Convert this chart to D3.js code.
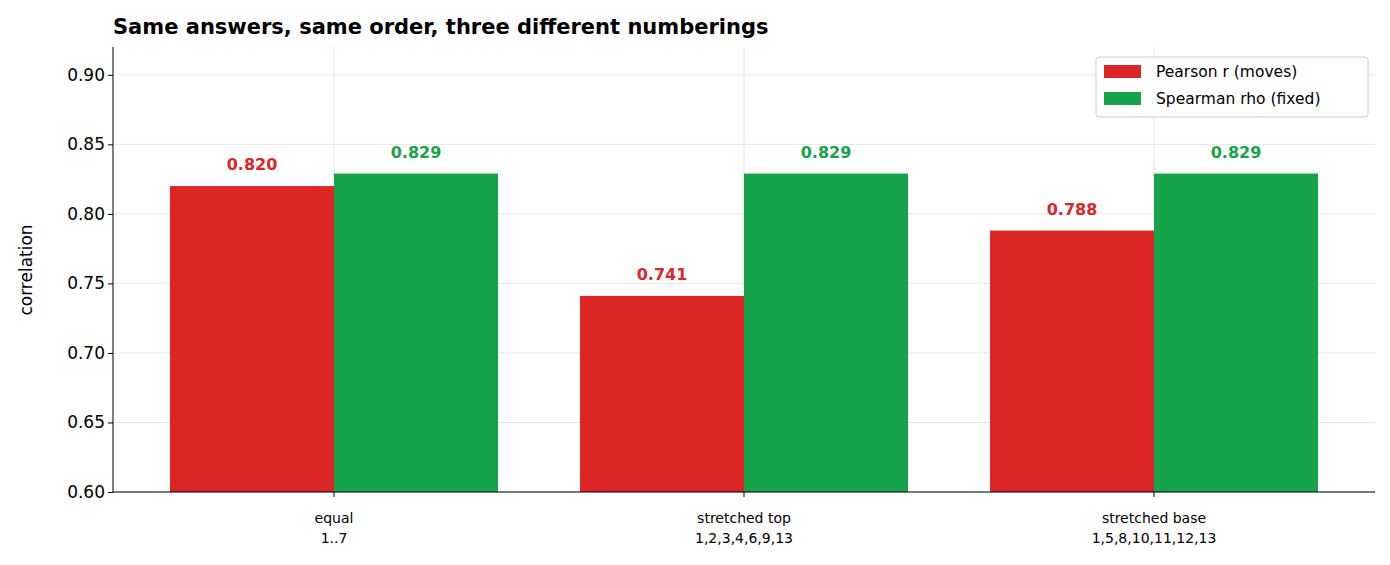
<!DOCTYPE html><html><head><meta charset="utf-8"><script src="https://cdn.jsdelivr.net/npm/d3@7"></script>
<style>body{margin:0;background:#fff}text{font-family:"DejaVu Sans",sans-serif}</style></head><body>
<svg id="c" width="1390" height="565"></svg>
<script>
const categories=["equal","stretched top","stretched base"];
const subLabels=["1..7","1,2,3,4,6,9,13","1,5,8,10,11,12,13"];
const pearson=[0.820,0.741,0.788];
const spearman=[0.829,0.829,0.829];
const series=[{name:"Pearson r (moves)",color:"#dc2626",vals:pearson},{name:"Spearman rho (fixed)",color:"#16a34a",vals:spearman}];
const yTicks=[0.60,0.65,0.70,0.75,0.80,0.85,0.90];
const svg=d3.select("#c");
const L=113,R=1375,T=47,B=492;
const y=d3.scaleLinear().domain([0.60,0.92]).range([B,T]);
const x=d3.scaleBand().domain(categories).range([L,R]).paddingOuter(0.04/0.6*0.6).paddingInner(0);
// manual: each band 410, outer offset 16
const bw=410, x0=d3.scaleBand().domain(categories).range([L+16,R-16]);
const inner=d3.scaleBand().domain([0,1]).range([0,bw*0.8]);
const g=svg.append("g");
yTicks.forEach(t=>g.append("line").attr("x1",L).attr("x2",R).attr("y1",y(t)).attr("y2",y(t)).attr("stroke","#e6e6e6"));
categories.forEach(c=>g.append("line").attr("x1",x0(c)+bw/2).attr("x2",x0(c)+bw/2).attr("y1",T).attr("y2",B).attr("stroke","#e6e6e6"));
series.forEach((s,i)=>{
 categories.forEach((c,j)=>{
  const bx=x0(c)+bw*0.1+inner(i);
  g.append("rect").attr("x",bx).attr("width",inner.bandwidth()).attr("y",y(s.vals[j])).attr("height",B-y(s.vals[j])).attr("fill",s.color);
  g.append("text").attr("x",bx+inner.bandwidth()/2).attr("y",y(s.vals[j])-16).attr("text-anchor","middle").attr("font-size",16).attr("font-weight","bold").attr("fill",s.color).text(s.vals[j].toFixed(3));
 });
});
const ya=svg.append("g").attr("transform",`translate(${L},0)`).call(d3.axisLeft(y).tickValues(yTicks).tickFormat(d3.format(".2f")).tickSize(5));
ya.selectAll("text").attr("font-size",17).attr("fill","#000");
ya.select(".domain").attr("d",`M0,${T}V${B}`);
const xa=svg.append("g").attr("transform",`translate(0,${B})`).call(d3.axisBottom(x0).tickSize(5).tickFormat(""));
xa.select(".domain").attr("d",`M${L},0H${R}`);
categories.forEach((c,j)=>{
 const t=svg.append("text").attr("x",x0(c)+bw/2).attr("text-anchor","middle").attr("font-size",14).attr("fill","#000");
 t.append("tspan").attr("x",x0(c)+bw/2).attr("y",523).text(c);
 t.append("tspan").attr("x",x0(c)+bw/2).attr("y",543).text(subLabels[j]);
});
svg.append("text").attr("transform","translate(32,270) rotate(-90)").attr("text-anchor","middle").attr("font-size",17).text("correlation");
svg.append("text").attr("x",113).attr("y",34).attr("font-size",21).attr("font-weight","bold").text("Same answers, same order, three different numberings");
const lg=svg.append("g");
lg.append("rect").attr("x",1096).attr("y",57).attr("width",272).attr("height",60).attr("rx",3).attr("fill","#fff").attr("stroke","#ccc");
series.forEach((s,i)=>{
 lg.append("rect").attr("x",1104).attr("y",65+i*27).attr("width",37).attr("height",13).attr("fill",s.color);
 lg.append("text").attr("x",1156).attr("y",77+i*27).attr("font-size",15.5).text(s.name);
});
</script></body></html>
